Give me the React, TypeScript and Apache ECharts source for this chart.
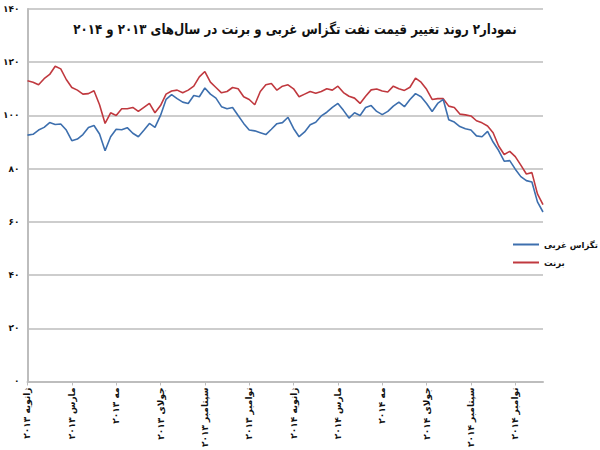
import React, { useEffect, useRef } from "react";
import * as echarts from "echarts";

const TITLE = "نمودار۲ روند تغییر قیمت نفت تگزاس غربی و برنت در سال‌های ۲۰۱۳ و ۲۰۱۴";

const tickLabels = [
  "ژانویه ۲۰۱۳", "مارس ۲۰۱۳", "مه ۲۰۱۳", "جولای ۲۰۱۳", "سپتامبر ۲۰۱۳", "نوامبر ۲۰۱۳",
  "ژانویه ۲۰۱۴", "مارس ۲۰۱۴", "مه ۲۰۱۴", "جولای ۲۰۱۴", "سپتامبر ۲۰۱۴", "نوامبر ۲۰۱۴",
];
const POINTS_PER_TICK = 8;

const wti = [
  92.6, 92.9, 94.5, 95.5, 97.3, 96.6, 96.8, 94.5, 90.5, 91.1,
  92.8, 95.5, 96.2, 93.0, 86.7, 92.0, 94.8, 94.6, 95.4, 93.3,
  92.0, 94.4, 97.0, 95.5, 100.0, 106.0, 107.8, 106.3, 105.0, 104.5,
  107.5, 107.0, 110.3, 108.0, 106.5, 103.3, 102.5, 103.0, 100.0, 97.0,
  94.5, 94.2, 93.5, 92.8, 94.8, 96.9, 97.3, 99.3, 95.1, 92.0,
  93.8, 96.5, 97.4, 99.8, 101.2, 103.0, 104.5, 101.9, 99.0, 101.0,
  100.0, 103.0, 103.7, 101.5, 100.3, 101.5, 103.5, 105.0, 103.3, 106.0,
  108.2, 107.0, 104.5, 101.5, 104.5, 106.0, 98.4, 97.5, 95.8, 95.0,
  94.5, 92.3, 92.0, 94.0, 90.0, 86.8, 82.8, 83.0, 79.8, 77.0,
  75.5, 75.0, 67.5, 63.7,
];

const brent = [
  113.0, 112.5, 111.5, 113.8, 115.4, 118.5, 117.5, 113.5, 110.5, 109.5,
  108.0, 108.2, 109.3, 104.0, 97.0, 101.0, 100.0, 102.5, 102.5, 103.0,
  101.5, 103.0, 104.5, 101.0, 103.7, 108.0, 109.2, 109.5, 108.5, 109.5,
  111.0, 114.5, 116.5, 112.5, 110.5, 108.5, 109.0, 110.5, 110.0, 107.0,
  106.0, 104.0, 109.0, 111.5, 112.0, 109.5, 111.0, 111.5, 110.0, 107.0,
  108.0, 109.0, 108.3, 109.0, 110.0, 109.5, 111.0, 108.6, 107.2, 106.5,
  104.5, 107.2, 109.6, 109.9, 109.2, 108.8, 111.0, 110.0, 109.4, 110.6,
  114.0, 112.5, 109.8, 106.0, 106.3, 106.3, 103.5, 103.0, 100.5, 100.2,
  99.8, 98.0, 97.2, 96.0, 93.5, 88.5, 85.3, 86.5, 84.5, 81.3,
  78.0, 78.5, 70.5, 66.5,
];

const SERIES_NAMES = ["تگزاس غربی", "برنت"];
const yTicks = [0, 20, 40, 60, 80, 100, 120, 140];

const FA_DIGITS = "۰۱۲۳۴۵۶۷۸۹";
const toFa = (n: number | string) => String(n).replace(/[0-9]/g, (d) => FA_DIGITS[+d]);

const categories = wti.map((_, i) =>
  i % POINTS_PER_TICK === 0 && tickLabels[i / POINTS_PER_TICK] ? tickLabels[i / POINTS_PER_TICK] : ""
);

const FONT = "DejaVu Sans";
const TITLE_SIZE = 14;
const TITLE_TARGET_WIDTH = 444;

export default function App() {
  const ref = useRef<HTMLDivElement>(null);
  useEffect(() => {
    if (!ref.current) return;
    let scaleX = 1;
    try {
      const ctx = document.createElement("canvas").getContext("2d");
      if (ctx) {
        ctx.font = `bold ${TITLE_SIZE}px "${FONT}"`;
        const w = ctx.measureText(TITLE).width;
        if (w > 0) scaleX = Math.min(1, TITLE_TARGET_WIDTH / w);
      }
    } catch (e) {
      scaleX = 0.85;
    }
    const chart = echarts.init(ref.current, undefined, { renderer: "svg" });
    chart.setOption({
      animation: false,
      backgroundColor: "#ffffff",
      graphic: [
        {
          type: "text",
          x: 295,
          y: 29,
          scaleX,
          scaleY: 1,
          z: 10,
          style: {
            text: TITLE,
            x: 0,
            y: 0,
            align: "center",
            verticalAlign: "middle",
            font: `bold ${TITLE_SIZE}px "${FONT}"`,
            fill: "#111",
          },
        },
      ],
      legend: {
        orient: "vertical",
        left: 513,
        top: 240,
        padding: 0,
        itemWidth: 26,
        itemHeight: 2,
        itemGap: 9,
        icon: "rect",
        textStyle: { fontFamily: FONT, fontSize: 8.5, fontWeight: "bold", color: "#111" },
        data: SERIES_NAMES,
      },
      grid: { left: 25, right: 57, top: 9, bottom: 58, containLabel: false },
      xAxis: {
        type: "category",
        boundaryGap: false,
        data: categories,
        axisLine: { show: true, lineStyle: { color: "#bdbdbd", width: 2 } },
        axisTick: { show: true, interval: POINTS_PER_TICK - 1, length: 4, lineStyle: { color: "#bdbdbd", width: 1 } },
        axisLabel: {
          interval: POINTS_PER_TICK - 1,
          rotate: 90,
          margin: 6,
          fontFamily: FONT,
          fontSize: 9,
          fontWeight: "bold",
          color: "#111",
        },
        splitLine: { show: false },
      },
      yAxis: {
        type: "value",
        min: 0,
        max: 140,
        interval: 20,
        axisLine: { show: true, lineStyle: { color: "#bdbdbd", width: 2 } },
        axisTick: { show: false },
        axisLabel: {
          margin: 8,
          fontFamily: FONT,
          fontSize: 9,
          fontWeight: "bold",
          color: "#111",
          formatter: (v: number) => (yTicks.includes(v) ? toFa(v) : ""),
        },
        splitLine: { show: true, lineStyle: { color: "#bdbdbd", width: 1.5 } },
      },
      series: [
        {
          name: SERIES_NAMES[0],
          type: "line",
          data: wti,
          symbol: "none",
          lineStyle: { color: "#3d6fae", width: 1.6 },
          itemStyle: { color: "#3d6fae" },
          z: 3,
        },
        {
          name: SERIES_NAMES[1],
          type: "line",
          data: brent,
          symbol: "none",
          lineStyle: { color: "#c0393f", width: 1.6 },
          itemStyle: { color: "#c0393f" },
          z: 2,
        },
      ],
    });
    return () => chart.dispose();
  }, []);
  return (
    <div
      ref={ref}
      style={{ position: "fixed", left: 0, top: 0, width: 600, height: 450, background: "#fff" }}
    />
  );
}
